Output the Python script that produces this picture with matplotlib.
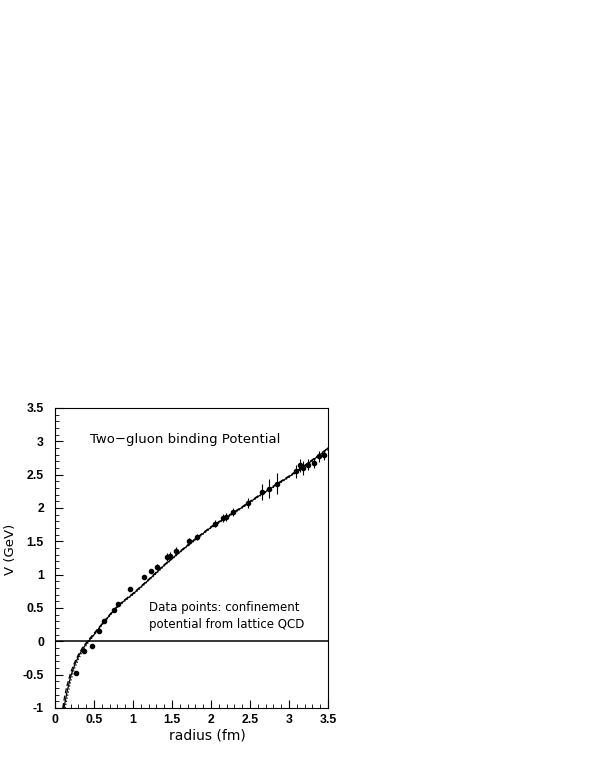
import numpy as np
import matplotlib.pyplot as plt
from matplotlib.ticker import MultipleLocator

plt.rcParams['font.family'] = ['DejaVu Sans']

# lattice QCD data points
r_data = [0.27, 0.377, 0.47, 0.565, 0.625, 0.75, 0.81, 0.963, 1.14, 1.23,
          1.305, 1.44, 1.47, 1.55, 1.72, 1.82, 2.05, 2.15, 2.195, 2.28,
          2.48, 2.66, 2.74, 2.84, 3.09, 3.145, 3.175, 3.24, 3.315, 3.39, 3.45]
v_data = [-0.475, -0.14, -0.075, 0.16, 0.30, 0.475, 0.565, 0.79, 0.96, 1.05,
          1.115, 1.265, 1.28, 1.35, 1.50, 1.565, 1.765, 1.85, 1.86, 1.94,
          2.075, 2.24, 2.29, 2.365, 2.55, 2.64, 2.60, 2.65, 2.675, 2.775, 2.79]
v_err = [0.02, 0.02, 0.02, 0.02, 0.02, 0.02, 0.02, 0.02, 0.03, 0.03,
         0.04, 0.06, 0.06, 0.06, 0.05, 0.05, 0.05, 0.06, 0.06, 0.06,
         0.07, 0.12, 0.14, 0.16, 0.10, 0.10, 0.10, 0.08, 0.08, 0.08, 0.07]

# model curves
r_dash = [0.10, 0.12, 0.15, 0.20, 0.25, 0.30, 0.35, 0.40, 0.45, 0.50, 0.60, 0.70,
          0.80, 0.90, 1.0, 1.2, 1.4, 1.6, 1.8, 2.0, 2.2, 2.4, 2.6, 2.8,
          3.0, 3.2, 3.4, 3.5]
v_dash = [-1.0, -0.85, -0.68, -0.47, -0.32, -0.20, -0.10, -0.02, 0.05, 0.12, 0.26, 0.40,
          0.53, 0.63, 0.72, 0.93, 1.15, 1.35, 1.54, 1.72, 1.87, 2.02, 2.18, 2.33,
          2.48, 2.64, 2.81, 2.90]

r_dot = [0.13, 0.15, 0.20, 0.25, 0.30, 0.35, 0.40, 0.45, 0.50, 0.60, 0.70,
         0.80, 0.90, 1.0, 1.2, 1.4, 1.6, 1.8, 2.0, 2.2, 2.4, 2.6, 2.8,
         3.0, 3.2, 3.4, 3.5]
v_dot = [-1.0, -0.88, -0.60, -0.41, -0.27, -0.15, -0.06, 0.02, 0.09, 0.24, 0.38,
         0.51, 0.61, 0.70, 0.91, 1.13, 1.33, 1.52, 1.70, 1.85, 2.00, 2.16, 2.31,
         2.46, 2.62, 2.79, 2.88]

r_sol = [0.115, 0.15, 0.20, 0.25, 0.30, 0.35, 0.40, 0.45, 0.50, 0.60, 0.70,
         0.80, 0.90, 1.0, 1.2, 1.4, 1.6, 1.8, 2.0, 2.2, 2.4, 2.6, 2.8,
         3.0, 3.2, 3.4, 3.5]
v_sol = [-1.0, -0.78, -0.53, -0.36, -0.23, -0.12, -0.04, 0.03, 0.10, 0.25, 0.39,
         0.52, 0.62, 0.71, 0.92, 1.14, 1.34, 1.53, 1.71, 1.86, 2.01, 2.17, 2.32,
         2.47, 2.63, 2.80, 2.90]

x_ticks = [0, 0.5, 1, 1.5, 2, 2.5, 3, 3.5]
x_labels = ['0', '0.5', '1', '1.5', '2', '2.5', '3', '3.5']
y_ticks = [-1, -0.5, 0, 0.5, 1, 1.5, 2, 2.5, 3, 3.5]
y_labels = ['-1', '-0.5', '0', '0.5', '1', '1.5', '2', '2.5', '3', '3.5']

fig = plt.figure(figsize=(5.9, 7.63), dpi=100)
ax = fig.add_axes([55 / 590, 55 / 763, 273 / 590, 300 / 763])

ax.plot(r_sol, v_sol, c='black', lw=0.9)
ax.plot(r_dash, v_dash, c='black', lw=0.9, ls=(0, (4, 2)))
ax.plot(r_dot, v_dot, c='black', lw=0.9, ls=(0, (1, 1.5)))
ax.axhline(0, c='black', lw=1.1)
ax.errorbar(r_data, v_data, yerr=v_err, fmt='o', ms=3, c='black',
            elinewidth=0.8, capsize=0)

ax.set_xlim(0, 3.5)
ax.set_ylim(-1, 3.5)
tick_font = dict(family='Liberation Sans', fontweight='bold', fontsize=8.8)
ax.set_xticks(x_ticks, x_labels, **tick_font)
ax.set_yticks(y_ticks, y_labels, **tick_font)
ax.xaxis.set_minor_locator(MultipleLocator(0.1))
ax.yaxis.set_minor_locator(MultipleLocator(0.1))
ax.tick_params(which='both', direction='in', top=False, right=False)
ax.tick_params(which='major', length=6, width=0.8)
ax.tick_params(which='minor', length=3, width=0.6)
ax.tick_params(axis='y', which='major', pad=8)
ax.tick_params(axis='x', which='major', pad=4)
for s in ax.spines.values():
    s.set_linewidth(0.8)

ax.set_xlabel('radius (fm)', fontsize=10)
ax.xaxis.set_label_coords(0.557, -0.067)
ax.set_ylabel('V (GeV)', fontsize=9.5)
ax.yaxis.set_label_coords(-0.14, 0.53)

ax.text(0.45, 3.02, 'Two\u2212gluon binding Potential', fontsize=9.5, va='center')
ax.text(1.206, 0.507, 'Data points: confinement', fontsize=8.5, va='center')
ax.text(1.206, 0.25, 'potential from lattice QCD', fontsize=8.5, va='center')

fig.savefig('out.png', dpi=100)
